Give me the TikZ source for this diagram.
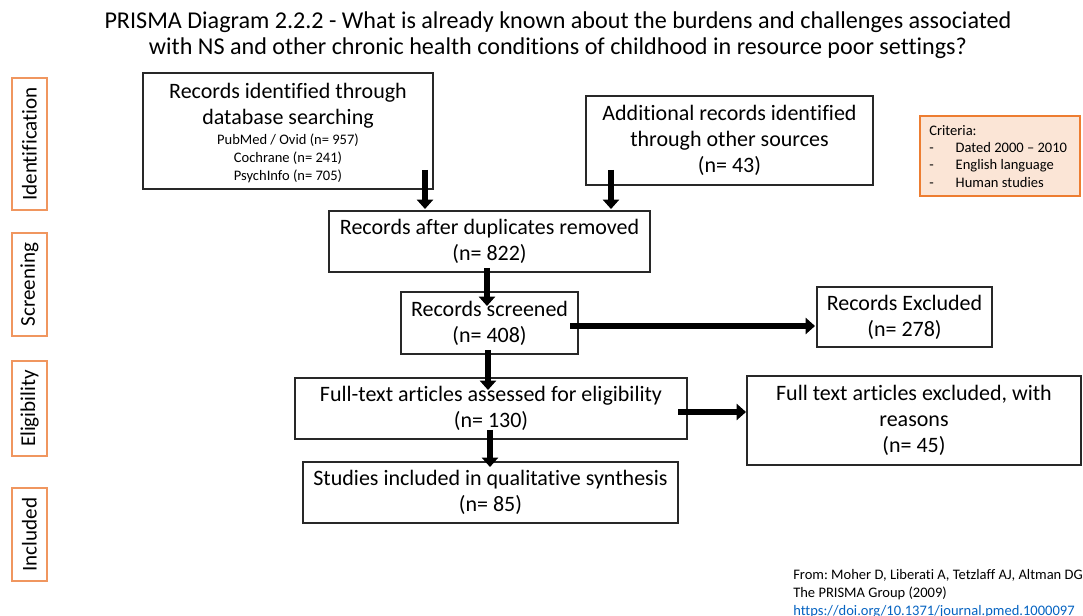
\documentclass[tikz,border=0pt]{standalone}
\usepackage{fontspec}
\setmainfont{Carlito}[Ligatures={TeX,NoCommon}]
\usetikzlibrary{arrows.meta}
\definecolor{stageline}{RGB}{240,150,95}
\definecolor{critline}{RGB}{237,125,49}
\definecolor{critfill}{RGB}{251,229,214}
\definecolor{linkblue}{RGB}{5,99,193}
\definecolor{boxline}{RGB}{40,40,40}
\frenchspacing
\begin{document}
\begin{tikzpicture}[x=0.75pt,y=-0.75pt,
  boxfont/.style={font=\fontsize{16.5}{19.5}\selectfont},
  box/.style={draw=boxline,line width=0.9pt,fill=white,inner sep=0pt,align=center,boxfont},
  stage/.style={draw=stageline,line width=1pt,fill=white,inner sep=0pt,
    minimum height=26.25pt,rotate=90,font=\fontsize{15.8}{18}\selectfont},
  bigarrow/.style={line width=5.2pt,-{Triangle[width=12pt,length=7pt]}},
  small/.style={font=\fontsize{10.9}{13.5}\selectfont}]
\useasboundingbox (0,0) rectangle (1083,616);
\clip (0,0) rectangle (1083,616);

% title
\node[align=center,font=\fontsize{18.1}{19.5}\selectfont] (title) at (558,35)
  {PRISMA Diagram 2.2.2 - What is already known about the burdens and challenges associated\\
   with NS and other chronic health conditions of childhood in resource poor settings?};

% stage labels
\node[stage,minimum width=99pt]    (sId)  at (29.5,144)   {Identification};
\node[stage,minimum width=77.25pt] (sScr) at (29.5,284.5) {Screening};
\node[stage,minimum width=71.25pt] (sEl)  at (29.5,408.5) {Eligibility};
\node[stage,minimum width=69.75pt] (sInc) at (29.5,534.5) {Included};

% flow boxes
\node[box,minimum width=217.5pt,minimum height=87pt] (A) at (288,131) {};
\node[boxfont,align=center,inner sep=0pt] (Atitle) at (288,106)
  {Records identified through\\database searching};
\node[small,align=center,inner sep=0pt] (Adb) at (288,158)
  {PubMed / Ovid (n= 957)\\Cochrane (n= 241)\\PsychInfo (n= 705)};
\node[box,minimum width=215.25pt,minimum height=66.75pt] (B) at (729.5,140.5)
  {Additional records identified\\through other sources\\(n= 43)};
\node[box,minimum width=240.75pt,minimum height=45.75pt] (C) at (489.5,241.5)
  {Records after duplicates removed\\(n= 822)};
\node[box,minimum width=132.75pt,minimum height=46.5pt] (D) at (489.5,323)
  {Records screened\\(n= 408)};
\node[box,minimum width=131.25pt,minimum height=45pt] (E) at (904.5,317)
  {Records Excluded\\(n= 278)};
\node[box,minimum width=294pt,minimum height=45.75pt] (F) at (491,408.5)
  {Full-text articles assessed for eligibility\\(n= 130)};
\node[box,minimum width=250.5pt,minimum height=66.75pt] (G) at (914,420.5)
  {Full text articles excluded, with\\reasons\\(n= 45)};
\node[box,minimum width=281.25pt,minimum height=45.75pt] (H) at (490.5,492.5)
  {Studies included in qualitative synthesis\\(n= 85)};

% criteria note
\node[draw=critline,line width=0.9pt,fill=critfill,minimum width=120pt,minimum height=60pt,
  inner sep=0pt] (crit) at (1000,156) {};
\node[small,font=\fontsize{10.9}{13}\selectfont,anchor=north west,align=left,inner sep=0pt]
  (critText) at (929,125)
  {Criteria:\\
   -\hspace{16.5pt}Dated 2000 – 2010\\
   -\hspace{16.5pt}English language\\
   -\hspace{16.5pt}Human studies};

% arrow end points
\coordinate (a1s) at (425,170); \coordinate (a1e) at (425,209);
\coordinate (a2s) at (611,170); \coordinate (a2e) at (611,209);
\coordinate (a3s) at (487,268); \coordinate (a3e) at (487,306);
\coordinate (a4s) at (570,326); \coordinate (a4e) at (815,326);
\coordinate (a5s) at (488,350); \coordinate (a5e) at (488,390);
\coordinate (a6s) at (678,412); \coordinate (a6e) at (746,412);
\coordinate (a7s) at (490,430); \coordinate (a7e) at (490,467);

\draw[bigarrow] (a1s) -- (a1e);
\draw[bigarrow] (a2s) -- (a2e);
\draw[bigarrow] (a3s) -- (a3e);
\draw[bigarrow] (a4s) -- (a4e);
\draw[bigarrow] (a5s) -- (a5e);
\draw[bigarrow] (a6s) -- (a6e);
\draw[bigarrow] (a7s) -- (a7e);

% source reference
\node[small,anchor=north west,align=left,inner sep=0pt] (cite) at (793,569)
  {From: Moher D, Liberati A, Tetzlaff AJ, Altman DG\\
   The PRISMA Group (2009)\\
   \textcolor{linkblue}{https://doi.org/10.1371/journal.pmed.1000097}};
\end{tikzpicture}
\end{document}
